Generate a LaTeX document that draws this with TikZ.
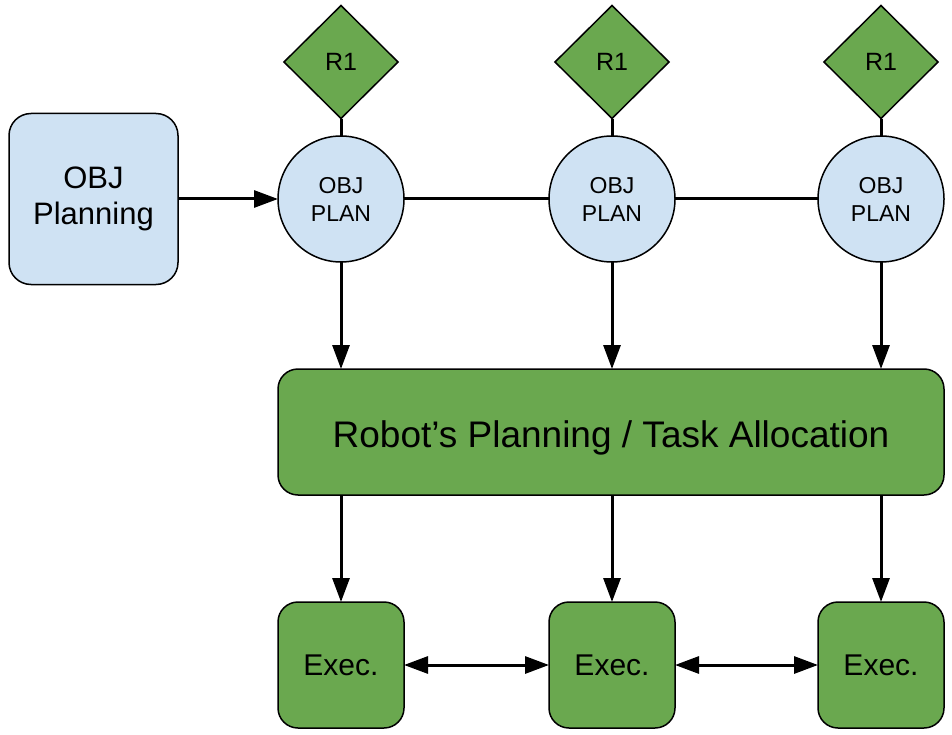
\documentclass[tikz,border=0pt]{standalone}
\usepackage{fontspec}
\setmainfont{Liberation Sans}
\usetikzlibrary{shapes.geometric,arrows.meta}
\definecolor{lblue}{HTML}{CFE2F3}
\definecolor{dgreen}{HTML}{6AA84F}
\begin{document}
\begin{tikzpicture}[x=1pt,y=-1pt,
  every node/.style={inner sep=0pt, outer sep=0pt, align=center},
  bluebox/.style={draw=black, line width=1.5pt, fill=lblue, rounded corners=22pt,
    minimum width=169pt, minimum height=171pt, font=\fontsize{31}{36}\selectfont},
  plancircle/.style={circle, draw=black, line width=1.5pt, fill=lblue,
    minimum size=126pt, font=\fontsize{23}{28}\selectfont},
  rdiamond/.style={diamond, draw=black, line width=1.5pt, fill=dgreen,
    minimum width=114pt, minimum height=113pt, font=\fontsize{25}{30}\selectfont},
  bigbox/.style={draw=black, line width=1.5pt, fill=dgreen, rounded corners=20pt,
    minimum width=666pt, minimum height=126pt, text height=30pt, text depth=0pt,
    font=\fontsize{37}{44}\selectfont},
  execbox/.style={draw=black, line width=1.5pt, fill=dgreen, rounded corners=20pt,
    minimum width=126pt, minimum height=126pt, font=\fontsize{30}{36}\selectfont},
  conn/.style={draw=black, line width=3pt},
  tip/.style={-{Triangle[length=24pt,width=17pt]}},
  dtip/.style={{Triangle[length=24pt,width=17pt]}-{Triangle[length=24pt,width=17pt]}}
]
\useasboundingbox (0,0) rectangle (952,735);

\node[bluebox] (obj) at (93.5,199) {OBJ\\Planning};

\node[plancircle] (c1) at (341,199) {OBJ\\PLAN};
\node[plancircle] (c2) at (612,199) {OBJ\\PLAN};
\node[plancircle] (c3) at (881,199) {OBJ\\PLAN};

\node[rdiamond] (r1) at (341,62) {R1};
\node[rdiamond] (r2) at (612,62) {R1};
\node[rdiamond] (r3) at (881,62) {R1};

\node[bigbox] (big) at (611,432) {Robot’s Planning / Task Allocation};

\node[execbox] (e1) at (341,665) {Exec.};
\node[execbox] (e2) at (612,665) {Exec.};
\node[execbox] (e3) at (881,665) {Exec.};

\draw[conn] (r1) -- (c1);
\draw[conn] (r2) -- (c2);
\draw[conn] (r3) -- (c3);

\draw[conn] (c1) -- (c2);
\draw[conn] (c2) -- (c3);

\draw[conn,tip] (obj) -- (c1);

\draw[conn,tip] (c1.south) -- (c1.south |- big.north);
\draw[conn,tip] (c2.south) -- (c2.south |- big.north);
\draw[conn,tip] (c3.south) -- (c3.south |- big.north);

\draw[conn,tip] (e1.north |- big.south) -- (e1.north);
\draw[conn,tip] (e2.north |- big.south) -- (e2.north);
\draw[conn,tip] (e3.north |- big.south) -- (e3.north);

\draw[conn,dtip] (e1) -- (e2);
\draw[conn,dtip] (e2) -- (e3);
\end{tikzpicture}
\end{document}
